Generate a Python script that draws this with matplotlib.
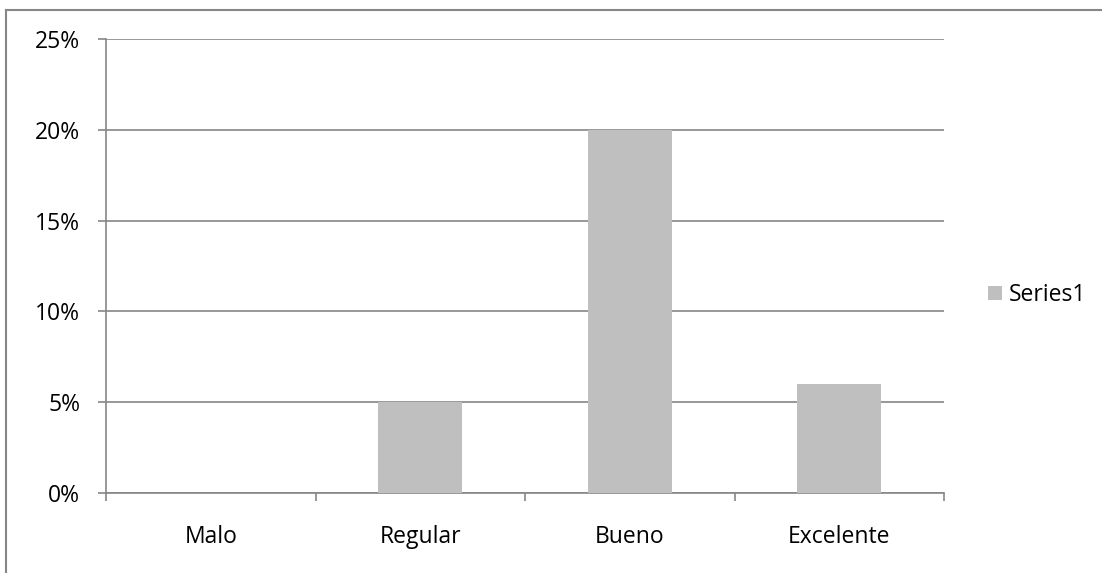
import matplotlib
matplotlib.use("Agg")
import matplotlib.pyplot as plt
from matplotlib.lines import Line2D
from matplotlib.patches import Patch
from matplotlib.ticker import FixedLocator

categories = ["Malo", "Regular", "Bueno", "Excelente"]
series_name = "Series1"
values = [0.0, 0.05, 0.20, 0.06]
yticks = [0.0, 0.05, 0.10, 0.15, 0.20, 0.25]
ytick_labels = ["0%", "5%", "10%", "15%", "20%", "25%"]

W, H = 1102, 573
plt.rcParams['font.family'] = ['Open Sans', 'DejaVu Sans']
fig = plt.figure(figsize=(W / 100, H / 100), dpi=100)
ax = fig.add_axes([106 / W, 1 - 493 / H, 838 / W, 454 / H])

grey = "#868686"
bar_color = "#BFBFBF"
fs = 16.5
x = list(range(len(categories)))
ax.bar(x, values, width=0.4, color=bar_color, zorder=3)

ax.set_xlim(-0.5, len(categories) - 0.5)
ax.set_ylim(0, 0.25)
ax.set_yticks(yticks)
ax.set_yticklabels(ytick_labels)
ax.yaxis.grid(True, color=grey, linewidth=1.2, zorder=0)
ax.set_axisbelow(True)

ax.set_xticks(x)
ax.set_xticklabels(categories)
ax.xaxis.set_minor_locator(FixedLocator([i - 0.5 for i in range(len(categories) + 1)]))
ax.tick_params(axis='x', which='major', length=0, pad=23, labelsize=fs, colors='black')
ax.tick_params(axis='x', which='minor', length=5.5, width=1.2, color=grey, direction='out')
ax.tick_params(axis='y', which='major', length=5.5, width=1.2, color=grey, pad=13, labelsize=fs)

for side in ['top', 'right']:
    ax.spines[side].set_visible(False)
for side in ['left', 'bottom']:
    ax.spines[side].set_color(grey)
    ax.spines[side].set_linewidth(1.2)

handle = Patch(facecolor=bar_color, edgecolor='none')
fig.legend([handle], [series_name], loc='center left',
           bbox_to_anchor=(988 / W, 1 - 295 / H), bbox_transform=fig.transFigure,
           frameon=False, fontsize=fs, handlelength=0.62, handleheight=0.62,
           handletextpad=0.28, borderpad=0, borderaxespad=0)

# outer chart border (left and top visible)
fig.add_artist(Line2D([5.5 / W, 5.5 / W], [0, 1 - 10 / H], color=grey, linewidth=1.5,
                      transform=fig.transFigure))
fig.add_artist(Line2D([5.5 / W, 1], [1 - 10 / H, 1 - 10 / H], color=grey, linewidth=1.5,
                      transform=fig.transFigure))

fig.savefig("out.png", dpi=100)
